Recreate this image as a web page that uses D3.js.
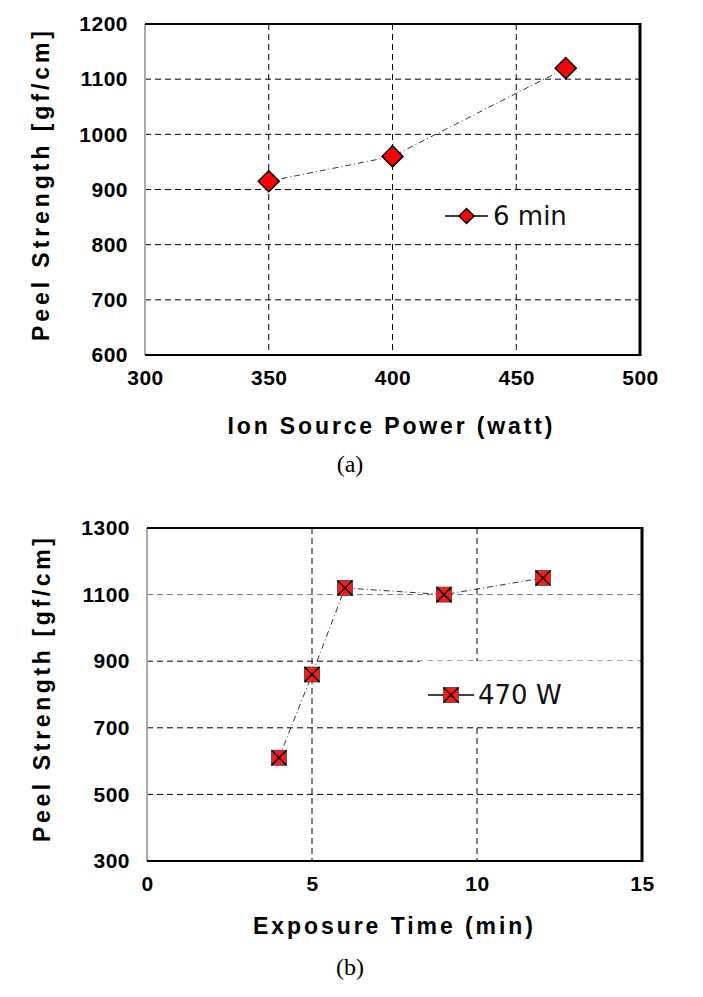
<!DOCTYPE html>
<html><head><meta charset="utf-8">
<script src="https://cdn.jsdelivr.net/npm/d3@7"></script>
<style>body{margin:0;background:#fff}svg{display:block}</style>
</head><body>
<script>
// ---- data ----
const powerA = [350, 400, 470];
const peelA = [915, 960, 1120];
const labelA = "6 min";
const xTicksA = [300, 350, 400, 450, 500];
const yTicksA = [600, 700, 800, 900, 1000, 1100, 1200];

const timeB = [4, 5, 6, 9, 12];
const peelB = [610, 860, 1120, 1100, 1150];
const labelB = "470 W";
const xTicksB = [0, 5, 10, 15];
const yTicksB = [300, 500, 700, 900, 1100, 1300];

const W = 703, H = 997;
const svg = d3.select("body").append("svg").attr("width", W).attr("height", H);

function panel(cfg) {
  const g = svg.append("g");
  const x = d3.scaleLinear().domain(cfg.xDom).range([cfg.left, cfg.right]);
  const y = d3.scaleLinear().domain(cfg.yDom).range([cfg.bottom, cfg.top]);

  // gridlines
  g.selectAll(".hg").data(cfg.yTicks.slice(1, -1)).join("line")
    .attr("x1", cfg.left).attr("x2", cfg.right)
    .attr("y1", d => y(d)).attr("y2", d => y(d))
    .attr("stroke", d => cfg.grayY.includes(d) ? "#777" : "#000")
    .attr("stroke-width", 1).attr("stroke-dasharray", "6,4");
  g.selectAll(".vg").data(cfg.xTicks.slice(1, -1)).join("line")
    .attr("x1", d => x(d)).attr("x2", d => x(d))
    .attr("y1", cfg.top).attr("y2", cfg.bottom)
    .attr("stroke", "#000").attr("stroke-width", 1).attr("stroke-dasharray", "6,4");

  // legend box background (hides gridlines behind it)
  const lg = cfg.legend;
  g.append("rect").attr("x", lg.bx).attr("y", lg.by).attr("width", lg.bw).attr("height", lg.bh)
    .attr("fill", "#fff");

  // frame
  g.append("line").attr("x1", cfg.left).attr("x2", cfg.left).attr("y1", cfg.top).attr("y2", cfg.bottom)
    .attr("stroke", "#a8a8a8").attr("stroke-width", 2);
  g.append("line").attr("x1", cfg.left).attr("x2", cfg.right).attr("y1", cfg.top).attr("y2", cfg.top)
    .attr("stroke", "#000").attr("stroke-width", 2);
  g.append("line").attr("x1", cfg.right).attr("x2", cfg.right).attr("y1", cfg.top - 1).attr("y2", cfg.bottom + 1)
    .attr("stroke", "#000").attr("stroke-width", 3);
  g.append("line").attr("x1", cfg.left).attr("x2", cfg.right).attr("y1", cfg.bottom).attr("y2", cfg.bottom)
    .attr("stroke", "#000").attr("stroke-width", 2);

  // axes (labels only)
  const ya = g.append("g").attr("transform", `translate(${cfg.left},0)`)
    .call(d3.axisLeft(y).tickValues(cfg.yTicks).tickFormat(d3.format("d")).tickSize(0).tickPadding(17));
  const xa = g.append("g").attr("transform", `translate(0,${cfg.bottom})`)
    .call(d3.axisBottom(x).tickValues(cfg.xTicks).tickFormat(d3.format("d")).tickSize(0).tickPadding(15));
  [ya, xa].forEach(a => {
    a.select(".domain").remove();
    a.selectAll("text").attr("font-family", "Liberation Sans, Arial, sans-serif")
      .attr("font-size", 21).attr("font-weight", "bold").attr("fill", "#000")
      .attr("letter-spacing", "0.5px");
  });

  // axis titles
  g.append("text").attr("transform", `translate(${cfg.yTitleX},${cfg.yTitleY}) rotate(-90)`)
    .attr("text-anchor", "middle").attr("font-family", "Liberation Sans, Arial, sans-serif")
    .attr("font-weight", "bold").attr("font-size", 23)
    .attr("textLength", cfg.yTitleLen).attr("lengthAdjust", "spacing")
    .text("Peel Strength [gf/cm]");
  g.append("text").attr("x", cfg.xTitleX).attr("y", cfg.xTitleY)
    .attr("text-anchor", "middle").attr("font-family", "Liberation Sans, Arial, sans-serif")
    .attr("font-weight", "bold").attr("font-size", 23)
    .attr("textLength", cfg.xTitleLen).attr("lengthAdjust", "spacing")
    .text(cfg.xTitle);
  g.append("text").attr("x", 350).attr("y", cfg.capY).attr("text-anchor", "middle")
    .attr("font-family", "Liberation Serif, Times New Roman, serif").attr("font-size", 24)
    .text(cfg.caption);

  // data line
  const pts = cfg.xs.map((v, i) => [v, cfg.ys[i]]);
  g.append("path").datum(pts)
    .attr("d", d3.line().x(d => x(d[0])).y(d => y(d[1])))
    .attr("fill", "none").attr("stroke", "#333").attr("stroke-width", 1)
    .attr("stroke-dasharray", "6,3,1,3");

  // markers
  const mk = g.selectAll(".mk").data(pts).join("g")
    .attr("transform", d => `translate(${x(d[0])},${y(d[1])})`);
  cfg.marker(mk, cfg.mSize);

  // legend
  g.append("line").attr("x1", lg.x1).attr("x2", lg.x2).attr("y1", lg.y).attr("y2", lg.y)
    .attr("stroke", "#000").attr("stroke-width", 1.5);
  const lm = g.append("g").attr("transform", `translate(${(lg.x1 + lg.x2) / 2},${lg.y})`);
  cfg.marker(lm, cfg.lSize);
  g.append("text").attr("x", lg.tx).attr("y", lg.y).attr("dy", "0.36em")
    .attr("font-family", "DejaVu Sans, sans-serif").attr("font-size", 26).attr("fill", "#111")
    .text(cfg.label);
}

function diamond(sel, r) {
  sel.append("path").attr("d", `M0,${-r}L${r},0L0,${r}L${-r},0Z`)
    .attr("fill", "#ff0000").attr("stroke", "#000").attr("stroke-width", 1.5);
}
function xsquare(sel, s) {
  const h = s / 2;
  sel.append("rect").attr("x", -h).attr("y", -h).attr("width", s).attr("height", s)
    .attr("fill", "#ff1a1a").attr("stroke", "#444").attr("stroke-width", 0.8);
  sel.append("path").attr("d", `M${-h},${-h}L${h},${h}M${h},${-h}L${-h},${h}`)
    .attr("stroke", "#000").attr("stroke-width", 1.5);
}

panel({
  xDom: [300, 500], yDom: [600, 1200], left: 145, right: 640, top: 24, bottom: 355,
  xTicks: xTicksA, yTicks: yTicksA, grayY: [],
  xs: powerA, ys: peelA, label: labelA,
  marker: diamond, mSize: 10.5, lSize: 7.5,
  legend: { bx: 420, by: 191, bw: 218, bh: 53, x1: 445, x2: 488, y: 216, tx: 493 },
  yTitleX: 49, yTitleY: 186, yTitleLen: 310,
  xTitle: "Ion Source Power (watt)", xTitleX: 390, xTitleY: 434, xTitleLen: 325,
  caption: "(a)", capY: 472
});

panel({
  xDom: [0, 15], yDom: [300, 1300], left: 147, right: 642, top: 528, bottom: 861,
  xTicks: xTicksB, yTicks: yTicksB, grayY: [1100],
  xs: timeB, ys: peelB, label: labelB,
  marker: xsquare, mSize: 15, lSize: 15,
  legend: { bx: 420, by: 661, bw: 220, bh: 65, x1: 428, x2: 474, y: 695, tx: 478 },
  yTitleX: 50, yTitleY: 690, yTitleLen: 304,
  xTitle: "Exposure Time (min)", xTitleX: 393, xTitleY: 934, xTitleLen: 280,
  caption: "(b)", capY: 975
});
</script>
</body></html>
